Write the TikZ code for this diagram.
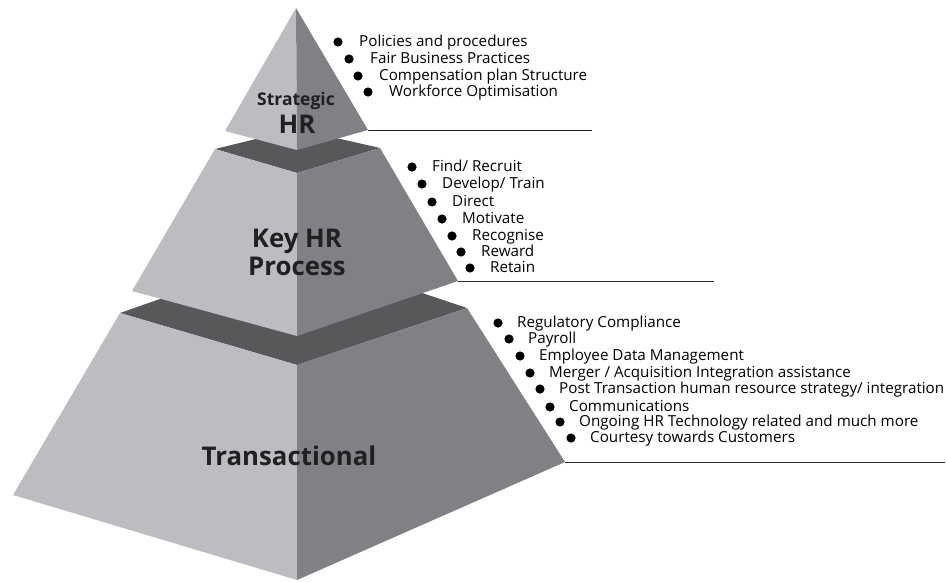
\documentclass[tikz,border=0pt]{standalone}
\usepackage{fontspec}
\setmainfont{Open Sans}
\definecolor{lightface}{HTML}{BCBDC1}
\definecolor{darkface}{HTML}{808185}
\definecolor{topface}{HTML}{58585B}
\definecolor{labelcol}{HTML}{231F20}
\tikzset{
	item/.style={anchor=base west, inner sep=0pt, font=\fontsize{15.2}{17}\selectfont},
	tierlabel/.style={anchor=base, inner sep=0pt, text=labelcol, font=\bfseries\fontsize{25.8}{28}\selectfont},
	guide/.style={line width=0.9pt, draw=black!85}
}
\begin{document}
\begin{tikzpicture}[x=1pt,y=-1pt]
				\useasboundingbox (0,0) rectangle (947,581);
				% bottom tier
				\coordinate (BL) at (13,495);
				\coordinate (BF) at (297,580);
				\coordinate (BR) at (565,462);
				\fill[topface] (120,313) -- (297,251) -- (467,308) -- (297,365) -- cycle;
				\fill[lightface] (120,313) -- (297,365) -- (BF) -- (BL) -- cycle;
				\fill[darkface] (297,365) -- (467,308) -- (BR) -- (BF) -- cycle;

				% middle tier
				\coordinate (ML) at (132,291);
				\coordinate (MF) at (297,336);
				\coordinate (MR) at (458,281);
				\fill[topface] (215,149) -- (297,129) -- (380,148) -- (297,173) -- cycle;
				\fill[lightface] (215,149) -- (297,173) -- (MF) -- (ML) -- cycle;
				\fill[darkface] (297,173) -- (380,148) -- (MR) -- (MF) -- cycle;

				% top pyramid
				\coordinate (TA) at (296,8);
				\coordinate (TL) at (225,131);
				\coordinate (TF) at (297,150);
				\coordinate (TR) at (368,130);
				\fill[lightface] (TA) -- (TL) -- (TF) -- cycle;
				\fill[darkface] (TA) -- (TF) -- (TR) -- cycle;

				% guide lines
				\coordinate (TRend) at (592,130);
				\coordinate (MRend) at (714,281);
				\coordinate (BRend) at (945,462);
				\draw[guide] (TR) -- (TRend);
				\draw[guide] (MR) -- (MRend);
				\draw[guide] (BR) -- (BRend);

				% tier labels
				\node[tierlabel, font=\bfseries\fontsize{17.5}{20}\selectfont] (strat) at (296,105) {Strategic};
				\node[tierlabel] (stratHR) at (297,133) {HR};
				\node[tierlabel] (key) at (297,247) {Key HR};
				\node[tierlabel] (proc) at (297,275) {Process};
				\node[tierlabel] (trans) at (289,465) {Transactional};

				% lists
				\foreach \bx/\by/\txt [count=\i] in {338/42/Policies and procedures, 349/59/Fair Business Practices, 358/76/Compensation plan Structure, 368/92/Workforce Optimisation}{
					\fill (\bx,\by) circle (4.6pt);
					\node[item] (pol\i) at (\bx+21,\by+4) {\txt};
				}
				\foreach \bx/\by/\txt [count=\i] in {412/167/{Find/ Recruit}, 422/184/{Develop/ Train}, 432/202/Direct, 442/219/Motivate, 452/236/Recognise, 461/252/Reward, 470/268/Retain}{
					\fill (\bx,\by) circle (4.6pt);
					\node[item] (key\i) at (\bx+20,\by+4) {\txt};
				}
				\foreach \bx/\by/\txt [count=\i] in {498/323/Regulatory Compliance, 509/339/Payroll, 520/356/Employee Data Management, 530/373/{Merger / Acquisition Integration assistance}, 540/389/{Post Transaction human resource strategy/ integration}, 550/407/Communications, 560/422/Ongoing HR Technology related and much more, 571/438/Courtesy towards Customers}{
					\fill (\bx,\by) circle (4.6pt);
					\node[item] (tr\i) at (\bx+19,\by+4) {\txt};
				}
			\end{tikzpicture}
\end{document}
